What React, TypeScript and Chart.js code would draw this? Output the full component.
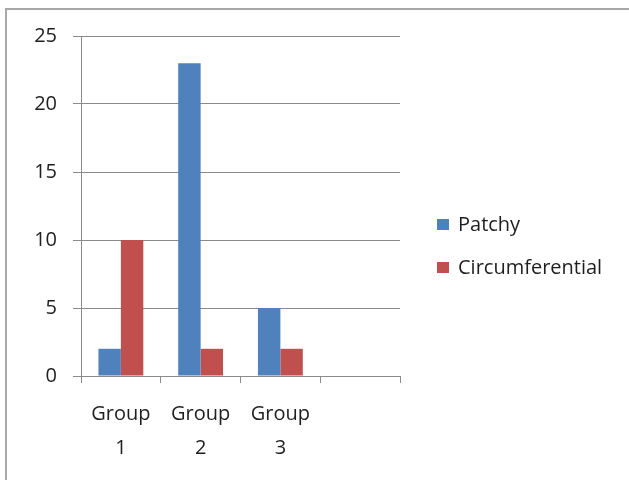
import React, { useEffect, useRef } from "react";
import { Chart, registerables } from "chart.js";

Chart.register(...registerables);

const categories: (string | string[])[] = [["Group", "1"], ["Group", "2"], ["Group", "3"], ""];
const patchy: (number | null)[] = [2, 23, 5, null];
const circumferential: (number | null)[] = [10, 2, 2, null];
const seriesNames = ["Patchy", "Circumferential"];
const seriesColors = ["#4F81BD", "#C0504D"];
const yMin = 0;
const yMax = 25;
const yStep = 5;

const FONT = "'Open Sans', 'DejaVu Sans', sans-serif";

const sideLegend = {
  id: "sideLegend",
  afterDraw(chart: any) {
    const ctx = chart.ctx;
    const area = chart.chartArea;
    const boxX = area.right + 37;
    const firstY = 225;
    const step = 43;
    ctx.save();
    ctx.font = `20px ${FONT}`;
    ctx.textBaseline = "middle";
    ctx.textAlign = "left";
    chart.data.datasets.forEach((ds: any, i: number) => {
      const cy = firstY + i * step;
      ctx.fillStyle = ds.backgroundColor;
      ctx.fillRect(boxX, cy - 6, 12, 11);
      ctx.fillStyle = "#1e1e1e";
      ctx.fillText(ds.label, boxX + 21, cy);
    });
    ctx.restore();
  },
};

export default function App() {
  const ref = useRef<HTMLCanvasElement | null>(null);

  useEffect(() => {
    if (!ref.current) return;
    const chart = new Chart(ref.current, {
      type: "bar",
      data: {
        labels: categories,
        datasets: [
          {
            label: seriesNames[0],
            data: patchy,
            backgroundColor: seriesColors[0],
            borderColor: seriesColors[0],
            borderWidth: 0,
            categoryPercentage: 0.5625,
            barPercentage: 1,
          },
          {
            label: seriesNames[1],
            data: circumferential,
            backgroundColor: seriesColors[1],
            borderColor: seriesColors[1],
            borderWidth: 0,
            categoryPercentage: 0.5625,
            barPercentage: 1,
          },
        ],
      },
      options: {
        animation: false,
        responsive: false,
        devicePixelRatio: 1,
        layout: { padding: { top: 36, bottom: 23, left: 0, right: 229 } },
        plugins: {
          tooltip: { enabled: false },
          legend: { display: false },
        },
        scales: {
          x: {
            grid: {
              drawOnChartArea: false,
              drawTicks: true,
              tickLength: 7,
              color: "#8a8a8a",
              offset: true,
            },
            border: { color: "#8a8a8a", width: 1 },
            ticks: {
              color: "#1e1e1e",
              padding: 14,
              maxRotation: 0,
              autoSkip: false,
              font: { family: FONT, size: 20, lineHeight: 1.7 },
            },
            afterFit: (s: any) => {
              s.height = 81;
            },
          },
          y: {
            min: yMin,
            max: yMax,
            ticks: {
              stepSize: yStep,
              color: "#1e1e1e",
              padding: 16,
              font: { family: FONT, size: 20 },
            },
            grid: { color: "#8a8a8a", lineWidth: 1, tickLength: 8 },
            border: { color: "#8a8a8a", width: 1 },
            afterFit: (s: any) => {
              s.width = 81;
            },
          },
        },
      },
      plugins: [sideLegend],
    } as any);
    return () => chart.destroy();
  }, []);

  return (
    <div
      style={{
        position: "absolute",
        left: 0,
        top: 0,
        width: 629,
        height: 480,
        overflow: "hidden",
        background: "#fff",
      }}
    >
      <div
        style={{
          position: "absolute",
          left: 5,
          top: 8,
          width: 700,
          height: 600,
          border: "2px solid #a8a8a8",
          boxSizing: "border-box",
        }}
      />
      <canvas
        ref={ref}
        width={629}
        height={480}
        style={{ position: "absolute", left: 0, top: 0, width: 629, height: 480 }}
      />
    </div>
  );
}
